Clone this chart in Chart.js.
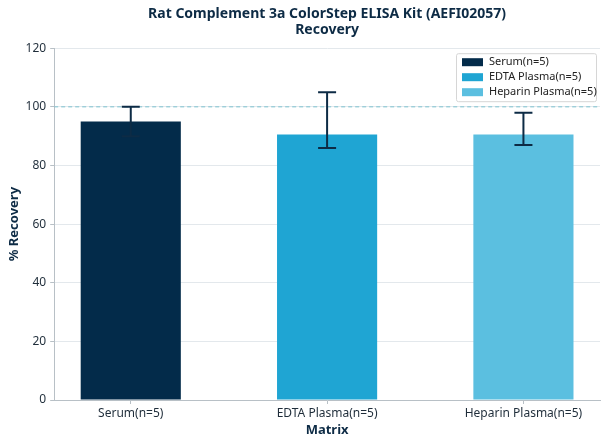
<!DOCTYPE html>
<html>
<head>
<meta charset="utf-8">
<script src="https://cdn.jsdelivr.net/npm/chart.js@4"></script>
<style>
	html, body { margin: 0; padding: 0; background: #fff; }
	#wrap { width: 608px; height: 444px; }
</style>
</head>
<body>
<div id="wrap"><canvas id="recoveryChart"></canvas></div>
<script>
const categories = ['Serum(n=5)', 'EDTA Plasma(n=5)', 'Heparin Plasma(n=5)'];
const recovery = [95, 90.6, 90.6];
const errLow = [90, 86, 87];
const errHigh = [100, 105, 98];
const barColors = ['#032b4a', '#1fa5d3', '#5bbfe0'];
const yTicks = [0, 20, 40, 60, 80, 100, 120];
const refLine = 100;

const navy = '#0d2b45';
const font = "'Noto Sans', 'Open Sans', sans-serif";

// error bars drawn through the scales
const errorBars = {
	id: 'errorBars',
	afterDatasetsDraw(chart) {
		const { ctx, scales: { x, y } } = chart;
		ctx.save();
		ctx.strokeStyle = navy;
		ctx.lineWidth = 2;
		categories.forEach((c, i) => {
			const px = x.getPixelForValue(i);
			const top = y.getPixelForValue(errHigh[i]);
			const bot = y.getPixelForValue(errLow[i]);
			ctx.beginPath();
			ctx.moveTo(px, top); ctx.lineTo(px, bot);
			ctx.moveTo(px - 9, top); ctx.lineTo(px + 9, top);
			ctx.moveTo(px - 9, bot); ctx.lineTo(px + 9, bot);
			ctx.stroke();
		});
		ctx.restore();
	}
};

// legend box inside the plot, top right
const innerLegend = {
	id: 'innerLegend',
	afterDraw(chart) {
		const { ctx, chartArea } = chart;
		const w = 140, h = 48;
		const x0 = chartArea.right - w - 4, y0 = chartArea.top + 5;
		ctx.save();
		ctx.fillStyle = 'rgba(255,255,255,0.85)';
		ctx.strokeStyle = '#d6d6d6';
		ctx.lineWidth = 1;
		ctx.beginPath();
		ctx.roundRect(x0 + 0.5, y0 + 0.5, w, h, 2);
		ctx.fill(); ctx.stroke();
		ctx.font = '11px ' + font;
		ctx.textBaseline = 'middle';
		categories.forEach((c, i) => {
			const cy = y0 + 9 + i * 15;
			ctx.fillStyle = barColors[i];
			ctx.fillRect(x0 + 6, cy - 4, 21, 8);
			ctx.fillStyle = '#222';
			ctx.fillText(c, x0 + 33, cy);
		});
		ctx.restore();
	}
};

const xMin = -0.39, xMax = 2.39;

const datasets = categories.map((c, i) => ({
	type: 'bar',
	label: c,
	data: [{ x: i, y: recovery[i] }],
	backgroundColor: barColors[i],
	borderWidth: 0,
	categoryPercentage: 1,
	barPercentage: 0.51,
	grouped: false,
	order: 2
}));
datasets.push({
	type: 'line',
	label: 'ref',
	data: [{ x: xMin, y: refLine }, { x: xMax, y: refLine }],
	borderColor: '#7cc1cf',
	borderWidth: 1,
	borderDash: [4, 3],
	pointRadius: 0,
	order: 3
});

new Chart(document.getElementById('recoveryChart'), {
	type: 'bar',
	data: { datasets },
	options: {
		responsive: true,
		maintainAspectRatio: false,
		animation: false,
		layout: { padding: { left: 2, right: 8, top: 4, bottom: 2 } },
		plugins: {
			legend: { display: false },
			tooltip: { enabled: false },
			title: {
				display: true,
				fullSize: false,
				text: ['Rat Complement 3a ColorStep ELISA Kit (AEFI02057)', 'Recovery'],
				color: navy,
				font: { family: font, size: 14, weight: 'bold', lineHeight: 1.15 },
				padding: { top: 2, bottom: 10 }
			}
		},
		scales: {
			x: {
				type: 'linear',
				offset: false,
				min: xMin,
				max: xMax,
				afterBuildTicks: s => { s.ticks = categories.map((c, i) => ({ value: i })); },
				ticks: {
					callback: v => categories[v],
					color: '#1f2d3a',
					font: { family: font, size: 12 },
					padding: 2
				},
				grid: { drawOnChartArea: false, drawTicks: true, tickLength: 4, tickColor: '#b8c0c6', offset: false },
				border: { color: '#b8c0c6' },
				title: {
					display: true,
					text: 'Matrix',
					color: navy,
					font: { family: font, size: 13, weight: 'bold' },
					padding: { top: 0 }
				}
			},
			y: {
				min: 0,
				max: 120,
				afterBuildTicks: s => { s.ticks = yTicks.map(v => ({ value: v })); },
				ticks: {
					color: '#1f2d3a',
					font: { family: font, size: 12 },
					padding: 4
				},
				grid: { color: '#e3e8ec', tickColor: '#b8c0c6', tickLength: 4 },
				border: { color: '#b8c0c6' },
				title: {
					display: true,
					text: '% Recovery',
					color: navy,
					font: { family: font, size: 13, weight: 'bold' },
					padding: { bottom: 0 }
				}
			}
		}
	},
	plugins: [errorBars, innerLegend]
});
</script>
</body>
</html>
